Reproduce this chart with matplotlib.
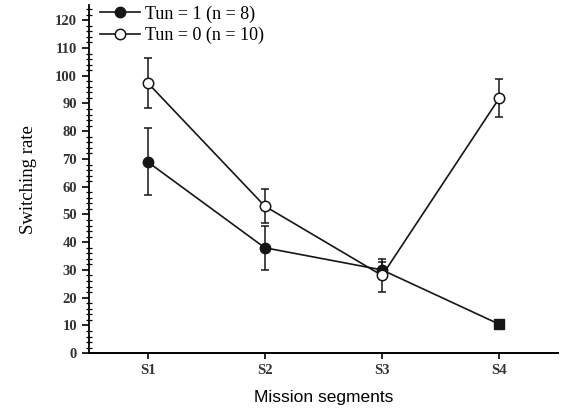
import matplotlib
matplotlib.use("Agg")
import matplotlib.pyplot as plt
from matplotlib.ticker import MultipleLocator
from matplotlib.lines import Line2D

segments = ["S1", "S2", "S3", "S4"]
tun1_mean = [69, 38, 30, 10.4]
tun1_err = [12, 8, 3, 0]
tun0_mean = [97.5, 53, 28, 92]
tun0_err = [9, 6, 6, 7]

serif = ["Liberation Serif", "DejaVu Serif"]
sans = ["Liberation Sans", "DejaVu Sans"]
ink = "#161616"

fig = plt.figure(figsize=(5.66, 4.16), dpi=100)
ax = fig.add_axes([0.157, 0.151, 0.829, 0.837])

x = list(range(1, len(segments) + 1))
ax.errorbar(x, tun1_mean, yerr=tun1_err, color=ink, marker="o",
            markersize=7.5, markerfacecolor=ink, markeredgecolor=ink,
            markevery=[0, 1, 2], lw=1.2, elinewidth=1.1, capsize=3,
            capthick=1.1)
# last point drawn as a filled square
ax.plot(x[-1], tun1_mean[-1], marker="s", markersize=7, color=ink)
ax.errorbar(x, tun0_mean, yerr=tun0_err, color=ink, marker="o",
            markersize=7.5, markerfacecolor="white", markeredgecolor=ink,
            markeredgewidth=1.1, lw=1.2, elinewidth=1.1, capsize=3,
            capthick=1.1)

ax.set_xlim(0.5, 4.5)
ax.set_ylim(0, 125.5)
ax.set_xticks(x)
ax.set_xticklabels(segments, fontfamily=serif, fontsize=10.5, fontweight="bold")
ax.yaxis.set_major_locator(MultipleLocator(10))
ax.yaxis.set_minor_locator(MultipleLocator(2))
for lab in ax.get_yticklabels():
    lab.set_fontfamily(serif)
    lab.set_fontsize(10.5)
    lab.set_fontweight("bold")
    lab.set_color("#333333")
for lab in ax.get_xticklabels():
    lab.set_color("#333333")
ax.tick_params(axis="y", which="major", length=5, width=1.2, direction="out")
ax.tick_params(axis="y", which="minor", length=4, width=0.9, direction="inout")
ax.tick_params(axis="x", length=4, width=1.2, direction="out")

for side in ("top", "right"):
    ax.spines[side].set_visible(False)
ax.spines["left"].set_linewidth(1.3)
ax.spines["bottom"].set_linewidth(1.4)

ax.set_ylabel("Switching rate", fontfamily=serif, fontsize=13.5, labelpad=13)
ax.set_xlabel("Mission segments", fontfamily=sans, fontsize=12.5, labelpad=10)

handles = [
    Line2D([], [], color=ink, lw=1.2, marker="o", markersize=7.5,
           markerfacecolor=ink, markeredgecolor=ink),
    Line2D([], [], color=ink, lw=1.2, marker="o", markersize=7.5,
           markerfacecolor="white", markeredgecolor=ink, markeredgewidth=1.1),
]
ax.legend(handles, ["Tun = 1 (n = 8)", "Tun = 0 (n = 10)"], loc="upper left",
          frameon=False, handlelength=2.2, handletextpad=0.3,
          borderaxespad=0.1, labelspacing=0.25, bbox_to_anchor=(0.005, 1.025),
          prop={"family": serif, "size": 13})

fig.savefig("out.png", dpi=100)
plt.close(fig)
